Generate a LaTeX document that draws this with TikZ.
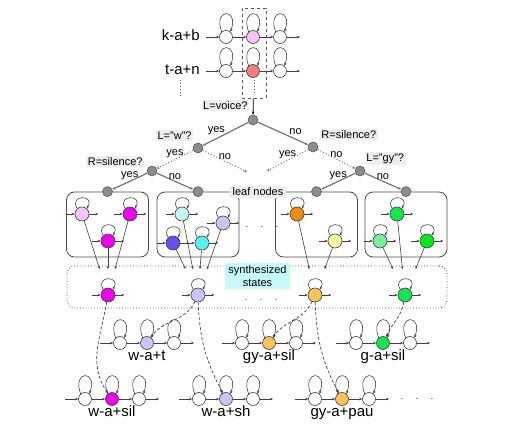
\documentclass[tikz,border=0pt]{standalone}
\usepackage{fontspec}
\setmainfont{Liberation Sans}
\usetikzlibrary{positioning, calc, arrows.meta}
\definecolor{lpink}{HTML}{F7C4F7}
\definecolor{salmon}{HTML}{F28080}
\definecolor{magen}{HTML}{F000F0}
\definecolor{lcyan}{HTML}{C4F7F2}
\definecolor{lavend}{HTML}{CCC4F7}
\definecolor{bviolet}{HTML}{6A4CF2}
\definecolor{cyanm}{HTML}{55F2EE}
\definecolor{orangel}{HTML}{F28C0A}
\definecolor{lyellow}{HTML}{F7F7A6}
\definecolor{greenm}{HTML}{14E650}
\definecolor{lgreen}{HTML}{73F29A}
\definecolor{greenb}{HTML}{0AE61E}
\definecolor{lorange}{HTML}{F7C455}
\definecolor{synthbg}{HTML}{C6FAFA}
\definecolor{qbg}{HTML}{EEEEEE}
\tikzset{
	>={Stealth[length=3pt,width=2.6pt]},
	thinline/.style={draw=black!75, line width=0.6pt},
	selfloop/.style={
		append after command={
			(\tikzlastnode.130) edge[->, thinline,
				to path={.. controls ([shift={(-9pt,#1)}]\tikztostart)
					and ([shift={(9pt,#1)}]\tikztotarget) .. (\tikztotarget)}]
			(\tikzlastnode.50)
		}
	},
	stubs/.style={
		append after command={
			([xshift=-9pt]\tikzlastnode.west) edge[->, thinline] (\tikzlastnode.west)
			(\tikzlastnode.east) edge[->, thinline] ([xshift=9pt]\tikzlastnode.east)
		}
	},
	basestate/.style={
		circle, draw=black!75, fill=#1, line width=0.6pt,
		minimum size=13pt, inner sep=0pt,
	},
	state/.style={basestate=#1, selfloop=24pt},
	state/.default=white,
	leafstate/.style={basestate=#1, minimum size=14pt, selfloop=14pt, stubs},
	chain/.style={->, thinline},
	qnode/.style={
		circle, draw=black!65, fill=black!45, line width=0.6pt,
		minimum size=10pt, inner sep=0pt,
	},
	tree/.style={->, draw=black!55, line width=1.2pt},
	treedot/.style={->, draw=black!55, line width=1pt, dotted},
	qlabel/.style={
		fill=qbg, inner sep=1.5pt,
		font={\fontsize{11}{13}\selectfont},
	},
	edgelab/.style={inner sep=1pt, font={\fontsize{11}{13}\selectfont}},
	biglab/.style={
		inner sep=1pt, text height=1.5ex, text depth=0.3ex,
		font={\fontsize{15}{17}\selectfont},
	},
	leafbox/.style={
		draw=black!70, line width=0.8pt, rounded corners=8pt,
		minimum width=82pt, minimum height=65pt,
	},
	synthbox/.style={
		draw=black!70, line width=0.8pt, dotted, rounded corners=8pt,
		minimum width=380pt, minimum height=42pt,
	},
	synthlink/.style={->, draw=black!75, line width=0.7pt, dashed, dash pattern=on 3pt off 2pt},
}
\newcommand{\hmmchain}[4]{%
	\node[state] (#1a) at (#2-27,#3) {};
	\node[state=#4] (#1b) at (#2,#3) {};
	\node[state] (#1c) at (#2+27,#3) {};
	\coordinate (#1in) at (#2-47,#3);
	\coordinate (#1out) at (#2+47,#3);
	\draw[chain] (#1in) -- (#1a);
	\draw[chain] (#1a) -- (#1b);
	\draw[chain] (#1b) -- (#1c);
	\draw[chain] (#1c) -- (#1out);
}
\begin{document}
\begin{tikzpicture}[x=1pt, y=1pt]
\useasboundingbox (0,0) rectangle (507,432);

% context dependent HMMs
\node(colbox)[draw=black!65, dashed, line width=0.8pt, minimum width=24pt, minimum height=90pt] at (254,379) {};
\hmmchain{kab}{253}{395}{lpink}
\hmmchain{tan}{253}{361}{salmon}
\node(kablab)[biglab, left=5pt of kabin]{k-a+b};
\node(tanlab)[biglab, left=5pt of tanin]{t-a+n};
\draw[dotted, line width=1pt, black!60] (180,352) -- (180,335);
\draw[dotted, line width=1pt, black!60] (254,352) -- (254,337);

% decision tree
\node(q0)[qnode] at (253,312) {};
\node(qw)[qnode] at (198,284) {};
\node(qsl)[qnode] at (152,261) {};
\node(qsr)[qnode] at (313,285) {};
\node(qgy)[qnode] at (360,261) {};
\coordinate (nol) at (247,260);
\coordinate (yesr) at (267,261);

\node[qlabel, above left=5pt and 0pt of q0]{L=voice?};
\node[qlabel, above left=3pt and 1pt of qw]{L="w"?};
\node[qlabel, above left=0pt and 4pt of qsl]{R=silence?};
\node[qlabel, above right=3pt and 3pt of qsr]{R=silence?};
\node[qlabel, above right=2pt and 1pt of qgy]{L="gy"?};

\draw[->, line width=0.8pt] (colbox) -- (q0);

% leaf nodes
\node(box1)[leafbox] at (107.5,207.5) {};
\node(box2)[leafbox] at (198,207.5) {};
\node(box3)[leafbox] at (316.5,207.5) {};
\node(box4)[leafbox] at (406,207.5) {};
\node(leaf1)[qnode] at (box1.north) {};
\node(leaf2)[qnode] at (box2.north) {};
\node(leaf3)[qnode] at (box3.north) {};
\node(leaf4)[qnode] at (box4.north) {};
\node(leaflab)[qlabel, inner xsep=3pt, inner ysep=2pt] at (258,240) {leaf nodes};

\draw[tree] (q0) -- node[edgelab, pos=0.7, above=2pt]{yes} (qw);
\draw[tree] (q0) -- node[edgelab, pos=0.75, above=3pt]{no} (qsr);
\draw[treedot] (qw) -- node[edgelab, midway, above]{yes} (qsl);
\draw[treedot] (qw) -- node[edgelab, midway, above]{no} (nol);
\draw[treedot] (qsr) -- node[edgelab, midway, above]{yes} (yesr);
\draw[treedot] (qsr) -- node[edgelab, midway, above]{no} (qgy);
\draw[tree] (qsl) -- node[edgelab, midway, above]{yes} (leaf1);
\draw[tree] (qsl) -- node[edgelab, midway, above]{no} (leaf2);
\draw[tree] (qgy) -- node[edgelab, midway, above]{yes} (leaf3);
\draw[tree] (qgy) -- node[edgelab, midway, above]{no} (leaf4);

% states in the leaves
\node(p1)[leafstate=lpink] at (82,218) {};
\node(p2)[leafstate=magen] at (130,218) {};
\node(p3)[leafstate=magen] at (108,191) {};
\node(c1)[leafstate=lcyan] at (182,218) {};
\node(c2)[leafstate=lavend] at (223,209) {};
\node(c3)[leafstate=bviolet] at (173,189) {};
\node(c4)[leafstate=cyanm] at (202,189) {};
\node(o1)[leafstate=orangel] at (297,218) {};
\node(o2)[leafstate=lyellow] at (335,191) {};
\node(g1)[leafstate=greenm] at (397,218) {};
\node(g2)[leafstate=lgreen] at (380,191) {};
\node(g3)[leafstate=greenb] at (427,191) {};
\node(leafdots) at (262,205) {$\cdot\quad\cdot\quad\cdot$};

% synthesized states
\node(sbox)[synthbox] at (257,145) {};
\node(m1)[leafstate=magen] at (108,137) {};
\node(m2)[leafstate=lavend] at (198,137) {};
\node(m3)[leafstate=lorange] at (315,137) {};
\node(m4)[leafstate=greenm] at (405,137) {};
\node(synthlab)[qlabel, fill=synthbg, align=center, inner xsep=3pt, inner ysep=2pt] at (257.5,156) {synthesized\\states};
\node(synthdots) at (261,132) {$\cdot\quad\cdot\quad\cdot$};

\draw[->, thinline] (p1) -- ($(p1)!0.68!(m1)$);
\draw[->, thinline] (p2) -- ($(p2)!0.68!(m1)$);
\draw[->, thinline] (p3) -- ($(p3)!0.52!(m1)$);
\draw[->, thinline] (c1) -- ($(c1)!0.68!(m2)$);
\draw[->, thinline] (c2) -- ($(c2)!0.64!(m2)$);
\draw[->, thinline] (c3) -- ($(c3)!0.5!(m2)$);
\draw[->, thinline] (c4) -- ($(c4)!0.5!(m2)$);
\draw[->, thinline] (o1) -- ($(o1)!0.68!(m3)$);
\draw[->, thinline] (o2) -- ($(o2)!0.52!(m3)$);
\draw[->, thinline] (g1) -- ($(g1)!0.68!(m4)$);
\draw[->, thinline] (g2) -- ($(g2)!0.52!(m4)$);
\draw[->, thinline] (g3) -- ($(g3)!0.52!(m4)$);

% HMMs built from the synthesized states
\hmmchain{wat}{147}{89}{lavend}
\hmmchain{gysil}{269}{89}{lorange}
\hmmchain{gsil}{383}{89}{greenm}
\hmmchain{wsil}{112}{33}{magen}
\hmmchain{wsh}{226}{33}{lavend}
\hmmchain{gypau}{342}{33}{lorange}
\node[biglab, below=2pt of watb]{w-a+t};
\node[biglab, below=2pt of gysilb]{gy-a+sil};
\node[biglab, below=2pt of gsilb]{g-a+sil};
\node[biglab, below=2pt of wsilb]{w-a+sil};
\node[biglab, below=2pt of wshb]{w-a+sh};
\node[biglab, below=2pt of gypaub]{gy-a+pau};
\node(hmmdots) at (417,33) {$\cdot\quad\cdot\quad\cdot$};

\draw[synthlink] (m1) to[out=-100, in=125] (wsilb);
\draw[synthlink] (m2) to[out=-115, in=55] (watb);
\draw[synthlink] (m2) to[out=-88, in=118] (wshb);
\draw[synthlink] (m3) to[out=-115, in=55] (gysilb);
\draw[synthlink] (m3) to[out=-88, in=118] (gypaub);
\draw[synthlink] (m4) to[out=-100, in=65] (gsilb);

\end{tikzpicture}
\end{document}
